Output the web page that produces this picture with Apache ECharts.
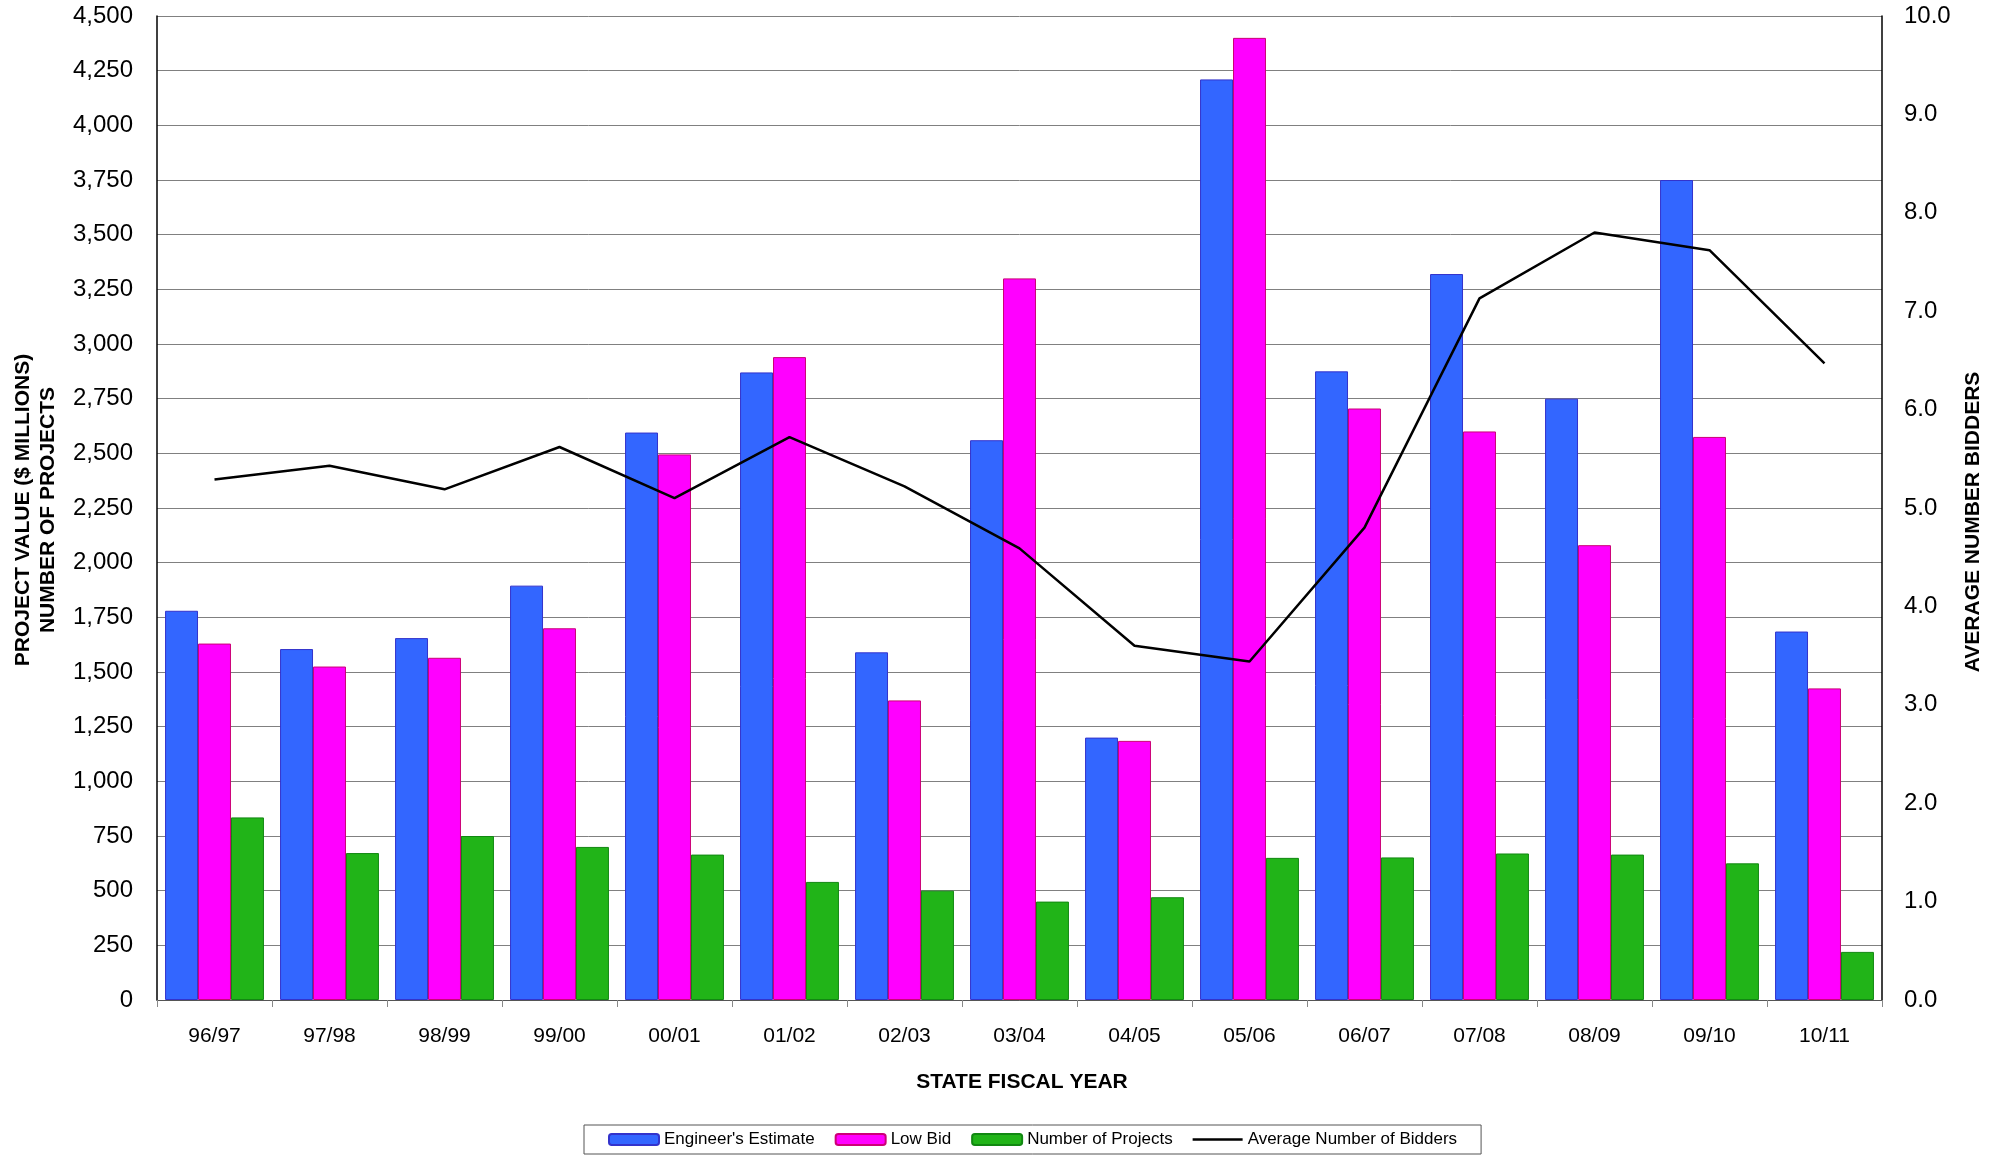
<!DOCTYPE html>
<html>
<head>
<meta charset="utf-8">
<script src="https://cdn.jsdelivr.net/npm/echarts@6/dist/echarts.min.js"></script>
<style>
html,body{margin:0;padding:0;background:#fff;}
#chart{width:2003px;height:1155px;}
</style>
</head>
<body>
<div id="chart"></div>
<script>
const categories = ['96/97','97/98','98/99','99/00','00/01','01/02','02/03','03/04','04/05','05/06','06/07','07/08','08/09','09/10','10/11'];
const engineerEstimate = [1780,1605,1655,1895,2595,2870,1590,2560,1200,4210,2875,3320,2750,3750,1685];
const lowBid = [1630,1525,1565,1700,2495,2940,1370,3300,1185,4400,2705,2600,2080,2575,1425];
const numProjects = [835,672,750,700,665,540,500,450,470,650,652,670,665,625,220];
const avgBidders = [5.29,5.43,5.19,5.62,5.10,5.72,5.22,4.59,3.60,3.44,4.80,7.13,7.80,7.62,6.47];
const seriesNames = ["Engineer's Estimate", 'Low Bid', 'Number of Projects', 'Average Number of Bidders'];

const FONT = "'Liberation Sans', Arial, sans-serif";
const chart = echarts.init(document.getElementById('chart'), null, {renderer:'canvas'});

const lineIcon = 'path://M0,0L0,0Z M0,4.25L50,4.25L50,6.75L0,6.75Z M0,11L0,11Z';

const option = {
  backgroundColor: '#ffffff',
  animation: false,
  textStyle: {fontFamily: FONT, color: '#000'},
  grid: {left: 157, right: 121, top: 16, bottom: 155, containLabel: false},
  legend: {
    data: [
      {name: seriesNames[0]},
      {name: seriesNames[1]},
      {name: seriesNames[2]},
      {name: seriesNames[3], icon: lineIcon, itemStyle: {color: '#000', borderWidth: 0, borderColor: 'transparent'}}
    ],
    top: 1125,
    left: 584,
    orient: 'horizontal',
    borderColor: '#555',
    borderWidth: 1,
    padding: [6, 24, 6, 24],
    itemGap: 20,
    itemWidth: 50,
    itemHeight: 11,
    textStyle: {fontFamily: FONT, fontSize: 17, color: '#000'}
  },
  xAxis: {
    type: 'category',
    data: categories,
    axisLine: {show: true, lineStyle: {color: '#555', width: 1}},
    axisTick: {show: true, alignWithLabel: false, length: 7, lineStyle: {color: '#888'}},
    axisLabel: {fontFamily: FONT, fontSize: 21, color: '#000', margin: 26, interval: 0},
    splitLine: {show: false}
  },
  yAxis: [
    {
      type: 'value',
      min: 0, max: 4500, interval: 250,
      axisLine: {show: true, lineStyle: {color: '#000', width: 1.5}},
      axisTick: {show: false},
      axisLabel: {fontFamily: FONT, fontSize: 24, color: '#000', margin: 24,
        formatter: v => v.toLocaleString('en-US')},
      splitLine: {show: true, lineStyle: {color: '#808080', width: 1}}
    },
    {
      type: 'value',
      min: 0, max: 10, interval: 1,
      position: 'right',
      axisLine: {show: true, lineStyle: {color: '#000', width: 1.5}},
      axisTick: {show: false},
      axisLabel: {fontFamily: FONT, fontSize: 24, color: '#000', margin: 22,
        formatter: v => v.toFixed(1)},
      splitLine: {show: false}
    }
  ],
  series: [
    {
      name: seriesNames[0], type: 'bar', data: engineerEstimate,
      barGap: '0%', barCategoryGap: '14%',
      itemStyle: {color: '#3366FF', borderColor: '#3333CC', borderWidth: 1}
    },
    {
      name: seriesNames[1], type: 'bar', data: lowBid,
      barGap: '0%', barCategoryGap: '14%',
      itemStyle: {color: '#FF00FF', borderColor: '#CC0077', borderWidth: 1}
    },
    {
      name: seriesNames[2], type: 'bar', data: numProjects,
      barGap: '0%', barCategoryGap: '14%',
      itemStyle: {color: '#21B418', borderColor: '#118811', borderWidth: 1}
    },
    {
      name: seriesNames[3], type: 'line', data: avgBidders, yAxisIndex: 1,
      symbol: 'none', showSymbol: false,
      lineStyle: {color: '#000', width: 2.5},
      itemStyle: {color: '#000'},
      z: 5
    }
  ],
  graphic: [
    {
      type: 'text',
      x: 36, y: 510, rotation: Math.PI / 2,
      style: {
        text: 'PROJECT VALUE ($ MILLIONS)\nNUMBER OF PROJECTS',
        fontFamily: FONT, fontSize: 21, fontWeight: 'bold', fill: '#000',
        align: 'center', verticalAlign: 'middle', lineHeight: 25
      }
    },
    {
      type: 'text',
      x: 1973, y: 522, rotation: Math.PI / 2,
      style: {
        text: 'AVERAGE NUMBER BIDDERS',
        fontFamily: FONT, fontSize: 21, fontWeight: 'bold', fill: '#000',
        align: 'center', verticalAlign: 'middle'
      }
    },
    {
      type: 'text',
      x: 1022, y: 1082,
      style: {
        text: 'STATE FISCAL YEAR',
        fontFamily: FONT, fontSize: 21, fontWeight: 'bold', fill: '#000',
        align: 'center', verticalAlign: 'middle'
      }
    }
  ]
};
chart.setOption(option);
</script>
</body>
</html>
